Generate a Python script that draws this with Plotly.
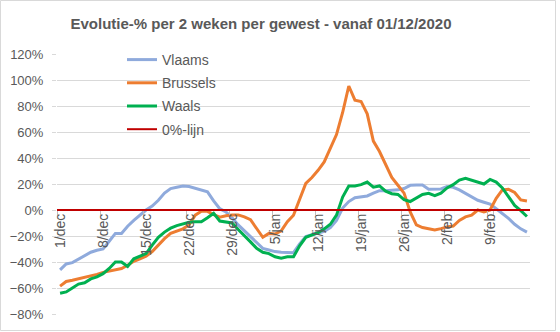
import pandas as pd
import plotly.graph_objects as go

# Daily categories from 1 December 2020 to 15 February 2021
dates = pd.date_range("2020-12-01", "2021-02-15", freq="D")
MONTHS = {12: "dec", 1: "jan", 2: "feb"}
categories = [f"{d.day}/{MONTHS[d.month]}" for d in dates]
tick_labels = categories[::7]

# Two-week evolution (%) per region
vlaams = [
    -46, -41.5, -40.5, -38, -35.5, -32.5, -31, -30, -24, -18,
    -18, -12.5, -8, -4, 0, 3, 7.5, 13, 16.5, 17.5,
    18.5, 18, 16.5, 15, 14, 7, 1, -1.5, -6, -11.5,
    -16, -20.5, -25.5, -29.5, -30.8, -32, -32.5, -32.5, -32.8, -26,
    -20.5, -19, -18, -16.5, -13.5, -8, 1.5, 6.5, 9.5, 10,
    10.8, 13, 14.9, 14.9, 15, 15.5, 16.5, 19, 19.2, 19.2,
    16, 16.2, 16.2, 18, 17.5, 15.5, 13, 10, 7.5, 6,
    4.5, 1, -2.6, -6.4, -11, -14.5, -17,
]
brussels = [
    -58.6, -55, -54, -53, -52, -50.5, -49.5, -48, -47, -46.5,
    -45, -42.5, -39.5, -37.5, -35.5, -32, -27, -22, -18, -16.5,
    -14.5, -11.5, -4, -1, -1, -3.5, -5.5, -4.5, -3.8, -3.8,
    -5.3, -7.5, -14, -21, -18, -18.5, -16, -9, -4, 9,
    20.5, 25, 30.5, 37, 48, 58, 75, 95.4, 84.5, 83.5,
    74, 53, 45, 35, 25, 19, 13, -1.5, -11.5, -13.5,
    -14.6, -15.4, -14.3, -13, -12.3, -8, -5.3, -4, 0, -1.5,
    0, 9, 15.4, 16, 13.5, 7.7, 6.9,
]
waals = [
    -64, -63, -60, -57, -56, -53, -51.5, -49, -45, -40,
    -40, -43.5, -37.5, -35.5, -33.5, -27, -21, -17, -14, -12,
    -10.5, -9.5, -9, -9, -6, -2.5, -8.5, -9.5, -10, -15,
    -19.5, -24.5, -29.5, -32.5, -33.5, -36, -37, -36, -36, -27.5,
    -21, -19.5, -17.5, -14.5, -11, -4, 10, 18.5, 18.5, 19.5,
    21.5, 17.5, 18.5, 14.5, 12.5, 12, 8, 6.5, 9, 12,
    12.8, 11, 13, 17, 19.5, 23, 24.4, 23, 21, 20,
    23.5, 21.5, 17, 10.3, 3.5, -0.5, -5,
]
nul_lijn = [0] * len(categories)

series = [
    ("Vlaams", vlaams, "#8FAADC", 3),
    ("Brussels", brussels, "#ED7D31", 3),
    ("Waals", waals, "#00B050", 3),
    ("0%-lijn", nul_lijn, "#C00000", 2),
]

TEXT = "#595959"
GRID = "#D9D9D9"
FONT = "Liberation Sans"

W, H = 560, 332
L, R, T, B = 57, 30, 54, 18
PW, PH = W - L - R, H - T - B


def px_to_paper(x, y):
    return (x - L) / PW, (H - B - y) / PH


fig = go.Figure()
for name, values, color, width in series:
    fig.add_trace(go.Scatter(
        x=categories, y=values, name=name, mode="lines",
        line=dict(color=color, width=width),
        legendgroup=name,
    ))

# light frame around the whole chart
bx0, by0 = px_to_paper(0.5, 0.5)
bx1, by1 = px_to_paper(W - 4.5, H - 1.5)

fig.update_layout(
    width=W, height=H,
    margin=dict(l=L, r=R, t=T, b=B, autoexpand=False),
    paper_bgcolor="white", plot_bgcolor="white",
    font=dict(family=FONT, color=TEXT),
    title=dict(
        text="<b>Evolutie-% per 2 weken per gewest - vanaf 01/12/2020</b>",
        x=261 / W, xanchor="center", y=1 - 24 / H, yanchor="middle",
        font=dict(size=15, color=TEXT, family=FONT),
    ),
    legend=dict(
        x=(122 - L) / PW, xanchor="left",
        y=(H - B - 44) / PH, yanchor="top",
        bgcolor="rgba(0,0,0,0)",
        font=dict(size=14, color=TEXT, family=FONT),
        tracegroupgap=2,
    ),
    showlegend=True,
    xaxis=dict(
        type="category",
        range=[-0.5, len(categories) - 0.5],
        anchor="free", position=(H - B - 210) / PH,
        tickmode="array", tickvals=tick_labels, ticktext=tick_labels,
        tickson="boundaries",
        ticks="outside", ticklen=4, tickcolor="#BFBFBF",
        tickangle=-90,
        tickfont=dict(size=14, color=TEXT, family=FONT),
        showgrid=False, showline=False, zeroline=False,
        automargin=False,
    ),
    yaxis=dict(
        range=[-80, 120], dtick=20, tick0=0,
        ticksuffix="%",
        ticks="outside", ticklen=4, tickcolor=GRID,
        ticklabelstandoff=6,
        tickfont=dict(size=13, color=TEXT, family=FONT),
        showgrid=True, gridcolor=GRID, gridwidth=1,
        zeroline=True, zerolinecolor="#C00000", zerolinewidth=2,
        showline=False,
        automargin=False,
    ),
    shapes=[dict(
        type="rect", xref="paper", yref="paper",
        x0=bx0, y0=by0, x1=bx1, y1=by1,
        line=dict(color="#D9D9D9", width=1),
        fillcolor="rgba(0,0,0,0)", layer="below",
    )],
)

fig.write_html("out.html")
